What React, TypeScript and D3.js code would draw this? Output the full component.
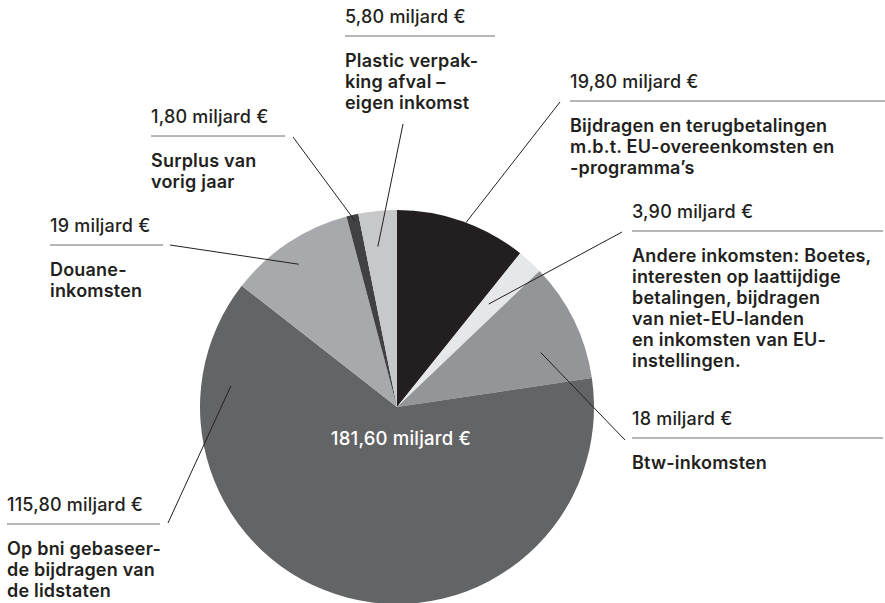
import * as d3 from "d3";

const WIDTH = 885;
const HEIGHT = 603;

// slices clockwise from 12 o'clock
const keys = ["bijdragen", "andere", "btw", "bni", "douane", "surplus", "plastic"];
const values = [19.8, 3.9, 18, 115.8, 19, 1.8, 5.8];
const valueLabels = [
  "19,80 miljard €",
  "3,90 miljard €",
  "18 miljard €",
  "115,80 miljard €",
  "19 miljard €",
  "1,80 miljard €",
  "5,80 miljard €",
];
const descriptions = [
  ["Bijdragen en terugbetalingen", "m.b.t. EU-overeenkomsten en", "-programma’s"],
  [
    "Andere inkomsten: Boetes,",
    "interesten op laattijdige",
    "betalingen, bijdragen",
    "van niet-EU-landen",
    "en inkomsten van EU-",
    "instellingen.",
  ],
  ["Btw-inkomsten"],
  ["Op bni gebaseer-", "de bijdragen van", "de lidstaten"],
  ["Douane-", "inkomsten"],
  ["Surplus van", "vorig jaar"],
  ["Plastic verpak-", "king afval –", "eigen inkomst"],
];
const colors = ["#231f20", "#e6e7e8", "#939598", "#636466", "#a7a9ac", "#414042", "#c7c8ca"];
const totalLabel = "181,60 miljard €";

// label blocks: x, value baseline, rule end, leader start,
// leader end as fraction of the slice angle (af) and of the radius (rf)
const labelLayout = [
  { x: 570, y: 88, x2: 885, lx: 560, ly: 102, af: 0.53, rf: 1.0 },
  { x: 632, y: 218, x2: 883, lx: 622, ly: 232, af: 0.39, rf: 0.7 },
  { x: 632, y: 425, x2: 883, lx: 625, ly: 440, af: 0.65, rf: 0.78 },
  { x: 7, y: 511, x2: 160, lx: 168, ly: 523, af: 0.864, rf: 0.85 },
  { x: 50, y: 232, x2: 163, lx: 170, ly: 245, af: 0.47, rf: 0.88 },
  { x: 151, y: 123, x2: 285, lx: 293, ly: 137, af: 0.6, rf: 0.97 },
  { x: 345, y: 23, x2: 495, lx: 403, ly: 124, af: 0.4, rf: 0.82 },
];

const CX = 397;
const CY = 407;
const R = 197;

export default function App() {
  const pie = d3
    .pie<number>()
    .sort(null)
    .value((d) => d);
  const arcs = pie(values);
  const arcGen = d3.arc<d3.PieArcDatum<number>>().innerRadius(0).outerRadius(R);

  return (
    <svg
      width={WIDTH}
      height={HEIGHT}
      style={{ position: "absolute", left: 0, top: 0, background: "#fff" }}
      fontFamily="Inter, 'Noto Sans', sans-serif"
    >
      <g transform={`translate(${CX},${CY})`}>
        {arcs.map((a, i) => (
          <path key={keys[i]} d={arcGen(a) || ""} fill={colors[i]} />
        ))}
        <text
          x={4}
          y={38}
          textAnchor="middle"
          fill="#fff"
          fontSize={18.5}
          fontWeight={500}
          letterSpacing={0.2}
        >
          {totalLabel}
        </text>
      </g>

      {arcs.map((a, i) => {
        const L = labelLayout[i];
        const ang = a.startAngle + (a.endAngle - a.startAngle) * L.af;
        const rr = R * L.rf;
        const ex = CX + Math.sin(ang) * rr;
        const ey = CY - Math.cos(ang) * rr;
        return (
          <g key={keys[i]}>
            <line x1={L.lx} y1={L.ly} x2={ex} y2={ey} stroke="#231f20" strokeWidth={1} />
            <text x={L.x} y={L.y} fill="#231f20" fontSize={18} fontWeight={500} letterSpacing={0.2}>
              {valueLabels[i]}
            </text>
            <line x1={L.x} x2={L.x2} y1={L.y + 13} y2={L.y + 13} stroke="#6d6e71" strokeWidth={1} />
            {descriptions[i].map((line, j) => (
              <text
                key={j}
                x={L.x}
                y={L.y + 44 + j * 21}
                fill="#231f20"
                fontSize={18}
                fontWeight={600}
                letterSpacing={0.2}
              >
                {line}
              </text>
            ))}
          </g>
        );
      })}
    </svg>
  );
}
